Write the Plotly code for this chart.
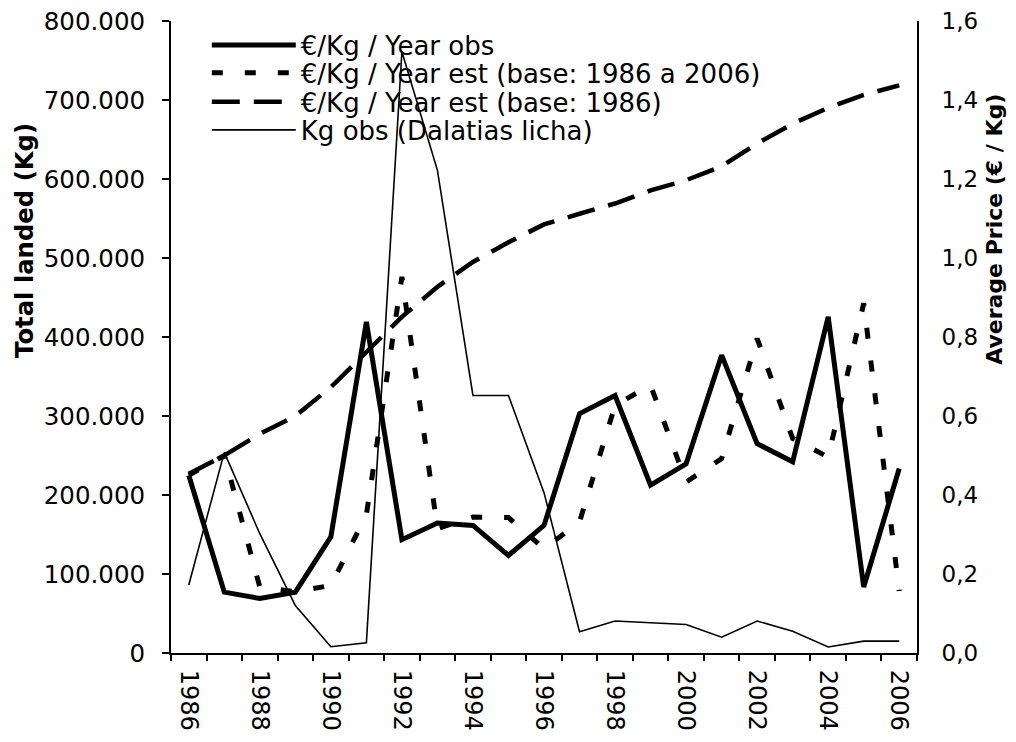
import plotly.graph_objects as go

years = list(range(1986, 2007))
kg_obs = [86000, 254000, 151000, 60000, 8000, 13000, 761000, 611000, 326000, 326000,
          203000, 27000, 40500, 38000, 36000, 20000, 40500, 27500, 7600, 15000, 15000]
price_obs = [0.45, 0.154, 0.138, 0.154, 0.294, 0.838, 0.287, 0.329, 0.323, 0.247,
             0.323, 0.606, 0.652, 0.425, 0.479, 0.754, 0.530, 0.484, 0.851, 0.167, 0.467]
price_est_all = [0.45, 0.50, 0.167, 0.155, 0.171, 0.35, 0.952, 0.315, 0.344, 0.343,
                 0.264, 0.332, 0.627, 0.678, 0.433, 0.492, 0.796, 0.543, 0.496, 0.885, 0.157]
price_est_86 = [0.454, 0.50, 0.555, 0.60, 0.673, 0.762, 0.851, 0.927, 0.99, 1.04,
                1.085, 1.112, 1.138, 1.171, 1.197, 1.232, 1.29, 1.34, 1.38, 1.413, 1.437]
year_labels = [str(y) for y in range(1986, 2007, 2)]

names = ["€/Kg / Year obs", "€/Kg / Year est (base: 1986 a 2006)",
         "€/Kg / Year est (base: 1986)", "Kg obs (Dalatias licha)"]
left_title = "<b>Total landed (Kg)</b>"
right_title = "<b>Average Price (€ / Kg)</b>"

FONT = "DejaVu Sans"
fig = go.Figure()
fig.add_trace(go.Scatter(x=years, y=kg_obs, name=names[3], yaxis="y", mode="lines",
                         legend="legend4", line=dict(color="black", width=1.6)))
fig.add_trace(go.Scatter(x=years, y=price_obs, name=names[0], yaxis="y2", mode="lines",
                         legend="legend", line=dict(color="black", width=5)))
fig.add_trace(go.Scatter(x=years, y=price_est_all, name=names[1], yaxis="y2", mode="lines",
                         legend="legend2", line=dict(color="black", width=5, dash="11px,22px")))
fig.add_trace(go.Scatter(x=years, y=price_est_86, name=names[2], yaxis="y2", mode="lines",
                         legend="legend3", line=dict(color="black", width=4.5, dash="28px,14px")))

def leg(y):
    return dict(x=0.048, y=y, xanchor="left", yanchor="middle", bgcolor="rgba(0,0,0,0)",
                itemwidth=84, font=dict(family=FONT, size=26, color="black"))

xcommon = dict(range=[1985.5, 2006.5], showgrid=False, zeroline=False, automargin=False)
ycommon2 = dict(range=[0, 1.6], dtick=0.2, overlaying="y", side="right", anchor="x",
                automargin=False, showgrid=False, zeroline=False)
fig.update_layout(
    width=1008, height=734,
    margin=dict(l=163, r=99, t=13, b=89),
    paper_bgcolor="white", plot_bgcolor="white",
    separators=",.",
    font=dict(family=FONT, size=24, color="black"),
    showlegend=True,
    legend=leg(0.962), legend2=leg(0.918), legend3=leg(0.872), legend4=leg(0.8275),
    xaxis=dict(**xcommon, tickmode="array", tickvals=[int(v) for v in year_labels],
               ticktext=year_labels, tickangle=90, ticks="", showline=True, linecolor="black",
               linewidth=2, tickfont=dict(size=24), ticklabelstandoff=10,
               minor=dict(tick0=1985.5, dtick=1, ticks="outside", ticklen=6, tickcolor="black",
                          tickwidth=2)),
    xaxis3=dict(**xcommon, overlaying="x", anchor="y", matches="x", showticklabels=False,
                ticks="", showline=False,
                minor=dict(tick0=1985.5, dtick=1, ticks="inside", ticklen=6, tickcolor="black",
                           tickwidth=2)),
    yaxis=dict(range=[0, 800000], dtick=100000, tickformat=",d", showgrid=False, zeroline=False,
               automargin=False, ticklabeloverflow="allow",
               showline=True, linecolor="black", linewidth=2, ticks="outside", ticklen=7,
               tickwidth=2, tickcolor="black", ticklabelstandoff=12, tickfont=dict(size=24.5)),
    yaxis2=dict(**ycommon2, tickformat=".1f", showline=True, linecolor="black", linewidth=2,
                ticks="outside", ticklen=18, tickwidth=2, tickcolor="rgba(0,0,0,0)",
                ticklabeloverflow="allow", tickfont=dict(size=23)),
    yaxis3=dict(**ycommon2, showline=False, showticklabels=False,
                ticks="outside", ticklen=7, tickwidth=2, tickcolor="black"),
    yaxis4=dict(**ycommon2, showline=False, showticklabels=False,
                ticks="inside", ticklen=7, tickwidth=2, tickcolor="black"),
    annotations=[
        dict(text=left_title, xref="paper", yref="paper", x=-0.1957, y=0.652,
             xanchor="center", yanchor="middle", textangle=-90, showarrow=False,
             font=dict(family=FONT, size=24.3, color="black")),
        dict(text=right_title, xref="paper", yref="paper", x=1.1046, y=0.6696,
             xanchor="center", yanchor="middle", textangle=-90, showarrow=False,
             font=dict(family=FONT, size=22, color="black")),
    ],
)
fig.write_html("out.html")
